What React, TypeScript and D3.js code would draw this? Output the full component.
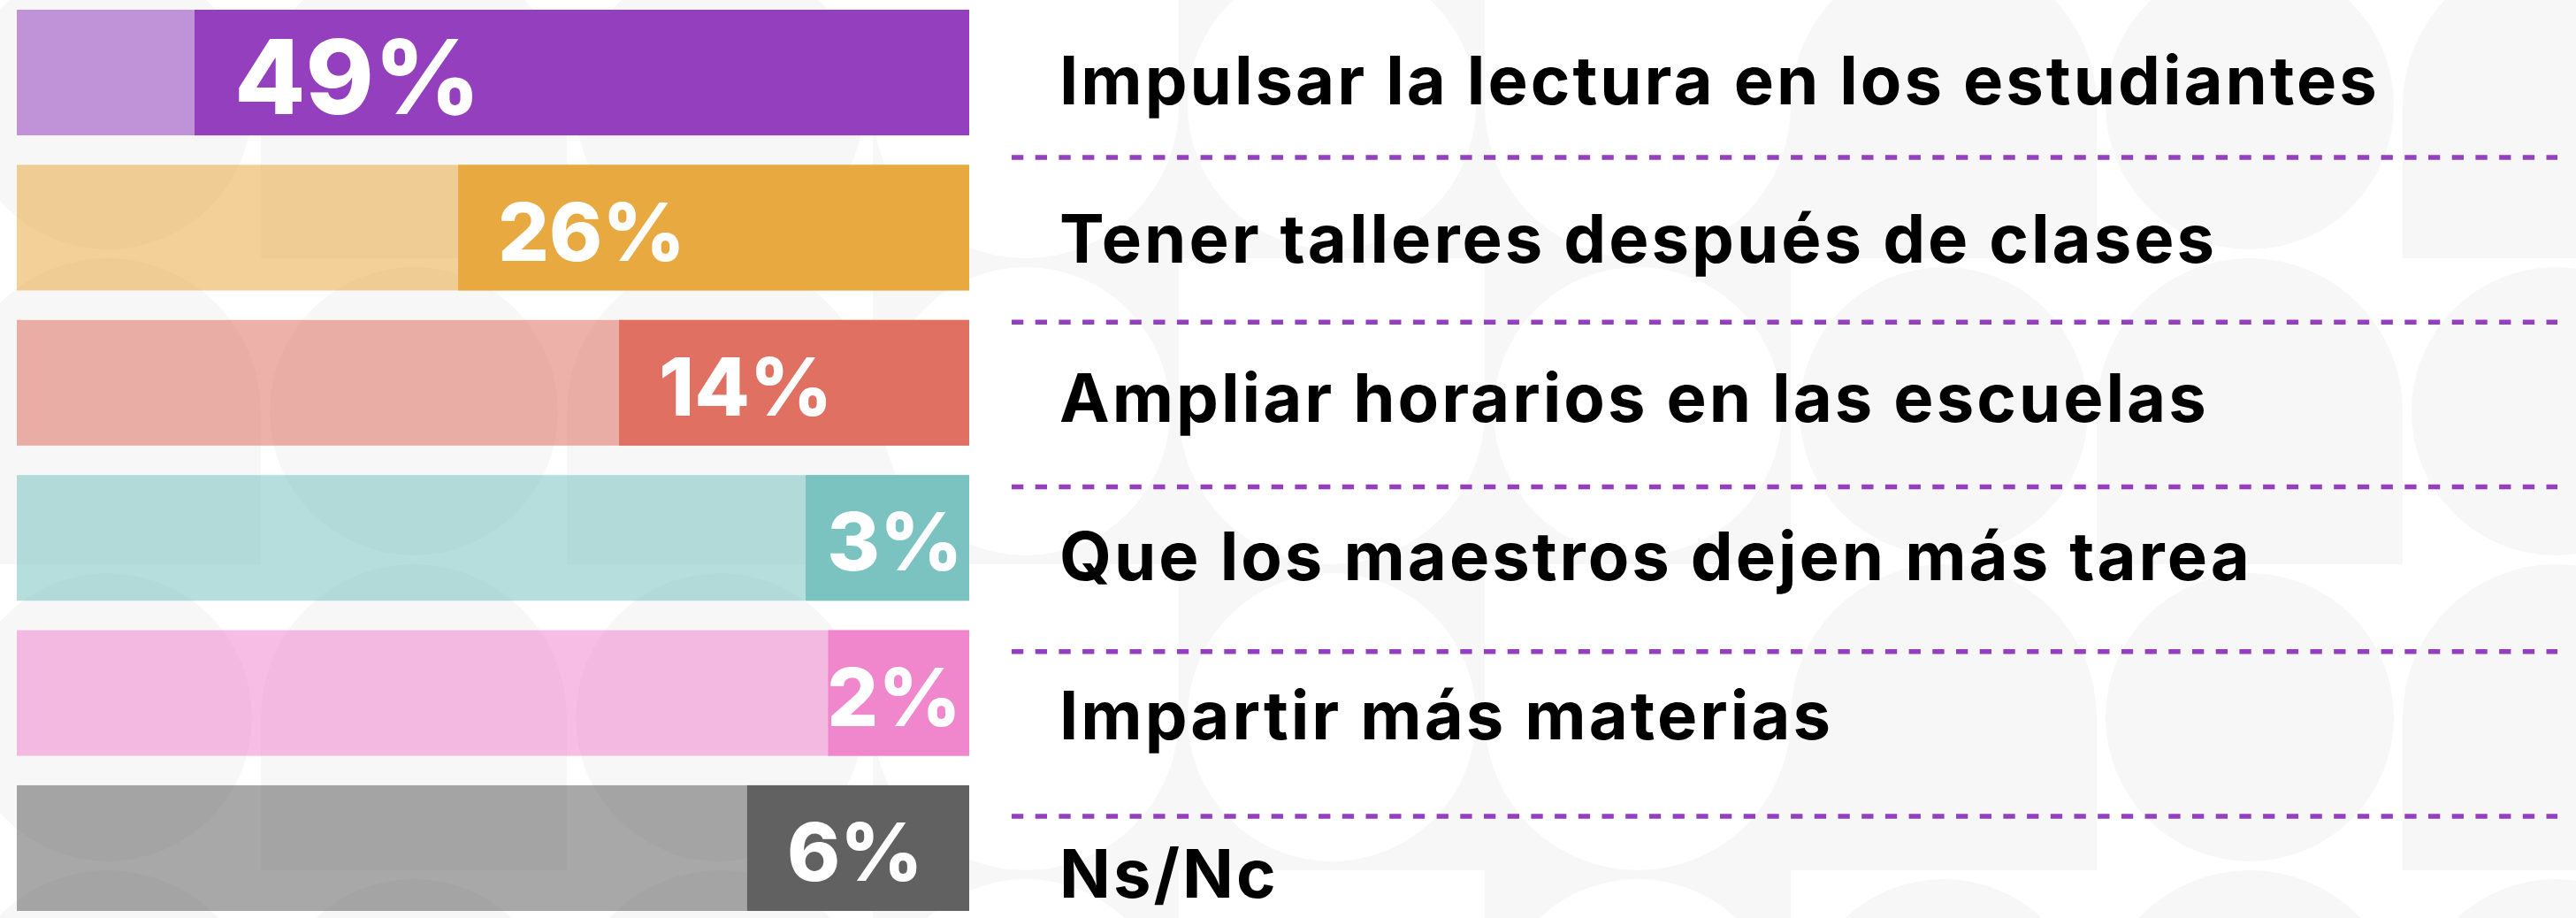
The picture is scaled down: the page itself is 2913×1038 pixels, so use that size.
import React from "react";
import * as d3 from "d3";

// survey answers, top to bottom
const categories = [
  "Impulsar la lectura en los estudiantes",
  "Tener talleres después de clases",
  "Ampliar horarios en las escuelas",
  "Que los maestros dejen más tarea",
  "Impartir más materias",
  "Ns/Nc",
];
const values = [49, 26, 14, 3, 2, 6];
const colors = ["#9440BE", "#E9A941", "#E07162", "#7AC3C1", "#F087CD", "#616161"];

const W = 2913;
const H = 1038;
const barLeft = 19;
const barRight = 1096;
const cell = 346;
const gray = "#F7F7F7";

// decorative circles / arches behind everything
const Backdrop = () => {
  const cols = d3.range(Math.ceil((W + 60) / cell));
  const rows = d3.range(Math.ceil((H + 60) / cell));
  const ox = -51;
  const oy = -54;
  const r = cell / 2;
  return (
    <g>
      {rows.map((j) =>
        cols.map((i) => {
          const bx = ox + i * cell;
          const by = oy + j * cell;
          const kind = (i + 2 * j + (i % 3)) % 4;
          const arch = `M${bx},${by + cell}V${by + r}A${r},${r} 0 0 1 ${bx + cell},${by + r}V${by + cell}Z`;
          if (kind === 0) return <circle key={`${i}-${j}`} cx={bx + r} cy={by + r} r={r - 10} fill={gray} />;
          if (kind === 1)
            return (
              <g key={`${i}-${j}`}>
                <rect x={bx} y={by} width={cell} height={cell} fill={gray} />
                <circle cx={bx + r} cy={by + r} r={r - 10} fill="#fff" />
              </g>
            );
          if (kind === 2) return <path key={`${i}-${j}`} d={arch} fill={gray} />;
          return (
            <g key={`${i}-${j}`}>
              <rect x={bx} y={by} width={cell} height={cell} fill={gray} />
              <path d={arch} fill="#fff" transform={`rotate(180 ${bx + r} ${by + r})`} />
            </g>
          );
        })
      )}
    </g>
  );
};

export default function App() {
  const maxV = d3.max(values) as number;
  const y = d3.scaleBand<string>().domain(categories).range([11, 1030]).paddingInner(0.19);
  // dark part of each bar, measured from the right end
  const dark = d3.scalePow().exponent(0.75).domain([0, maxV]).range([88, 876]);
  const labelY = d3.scalePoint<string>().domain(categories).range([118, 1015]);
  const ruleY = d3.scaleLinear().domain([0, categories.length - 2]).range([178, 923]);

  return (
    <svg width={W} height={H} style={{ display: "block", position: "absolute", left: 0, top: 0 }}>
      <rect width={W} height={H} fill="#fff" />
      <Backdrop />

      {categories.map((c, i) => {
        const v = values[i];
        const y0 = y(c) as number;
        const bh = y.bandwidth();
        const ds = barRight - dark(v);
        const fs = v === maxV ? 117 : 91;
        const txt = `${v}%`;
        const estW = fs * (0.63 * String(v).length + 0.95);
        const tx = Math.min(ds + 45, barRight - 17 - estW);
        return (
          <g key={c}>
            <rect x={barLeft} y={y0} width={barRight - barLeft} height={bh} fill={colors[i]} fillOpacity={0.55} />
            <rect x={ds} y={y0} width={barRight - ds} height={bh} fill={colors[i]} />
            <text
              x={tx}
              y={y0 + bh / 2 + 4 + fs * 0.365}
              fill="#fff"
              fontFamily="Inter, 'Open Sans', sans-serif"
              fontWeight={800}
              fontSize={fs}
            >
              {txt}
            </text>
          </g>
        );
      })}

      {d3.range(categories.length - 1).map((k) => (
        <line
          key={k}
          x1={1144}
          x2={2892}
          y1={ruleY(k)}
          y2={ruleY(k)}
          stroke="#9440BE"
          strokeWidth={5.3}
          strokeDasharray="13.3 13.4"
        />
      ))}

      {categories.map((c) => (
        <text
          key={c}
          x={1198}
          y={labelY(c)}
          fill="#000"
          fontFamily="Inter, 'Open Sans', sans-serif"
          fontWeight={700}
          fontSize={76}
          letterSpacing={3}
        >
          {c}
        </text>
      ))}
    </svg>
  );
}
